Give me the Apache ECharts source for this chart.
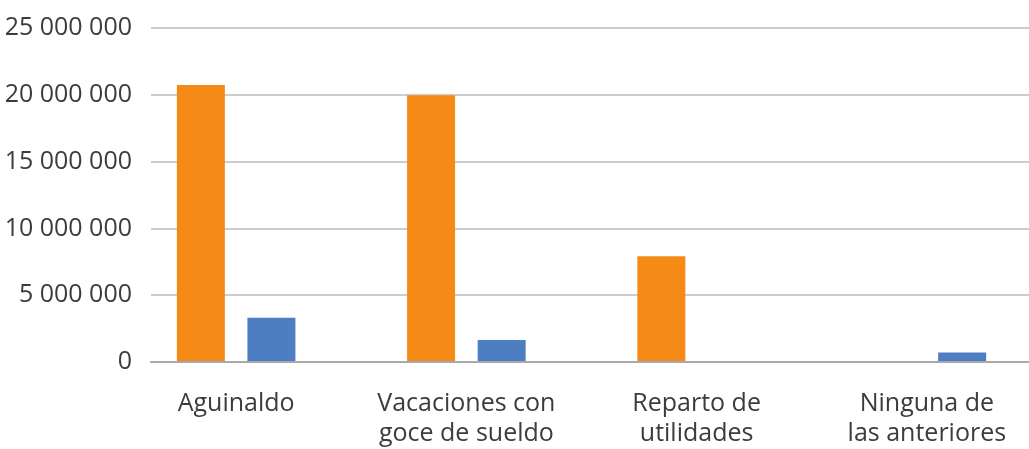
<!DOCTYPE html>
<html>
<head>
<meta charset="utf-8">
<script src="https://cdn.jsdelivr.net/npm/echarts@6/dist/echarts.min.js"></script>
<style>
  html, body { margin: 0; padding: 0; background: #fff; overflow: hidden; }
  #chart { width: 1042px; height: 449px; }
</style>
</head>
<body>
<div id="chart"></div>
<script>
var categories = ['Aguinaldo', 'Vacaciones con\ngoce de sueldo', 'Reparto de\nutilidades', 'Ninguna de\nlas anteriores'];
var orangeValues = [20730000, 19950000, 7870000, 0];
var blueValues = [3250000, 1570000, 0, 630000];
var yTicks = { min: 0, max: 25000000, interval: 5000000 };

function fmt(v) {
    return String(v).replace(/\B(?=(\d{3})+(?!\d))/g, ' ');
}

// the chart div is a bit wider than the window: the category bands run past the right edge
var myChart = echarts.init(document.getElementById('chart'));
var font = '"Open Sans", "Noto Sans", sans-serif';
var option = {
    animation: false,
    grid: [
        { left: 151, right: 13, top: 28, bottom: 87 },
        { left: 121, right: 0, top: 28, bottom: 87 }
    ],
    xAxis: [
        {
            gridIndex: 0,
            type: 'category',
            data: categories,
            axisLine: { lineStyle: { color: '#a9a9a9', width: 2 } },
            axisTick: { show: false },
            axisLabel: { show: false }
        },
        {
            gridIndex: 1,
            type: 'category',
            data: categories,
            axisLine: { show: false },
            axisTick: { show: false },
            axisLabel: {
                interval: 0,
                margin: 28,
                fontFamily: font,
                fontSize: 25,
                lineHeight: 30,
                color: '#3c3c3c'
            }
        }
    ],
    yAxis: [
        {
            gridIndex: 0,
            type: 'value',
            min: yTicks.min,
            max: yTicks.max,
            interval: yTicks.interval,
            axisLine: { show: false },
            axisTick: { show: false },
            splitLine: { lineStyle: { color: '#cdcdcd', width: 2 } },
            axisLabel: {
                margin: 19,
                fontFamily: font,
                fontSize: 25,
                color: '#3c3c3c',
                formatter: fmt
            }
        },
        {
            gridIndex: 1,
            type: 'value',
            min: yTicks.min,
            max: yTicks.max,
            show: false,
            splitLine: { show: false }
        }
    ],
    series: [
        {
            name: 'Serie 1',
            type: 'bar',
            xAxisIndex: 1,
            yAxisIndex: 1,
            data: orangeValues,
            barWidth: 48,
            barGap: '47%',
            itemStyle: { color: '#f58a17' }
        },
        {
            name: 'Serie 2',
            type: 'bar',
            xAxisIndex: 1,
            yAxisIndex: 1,
            data: blueValues,
            barWidth: 48,
            barGap: '47%',
            itemStyle: { color: '#4e7ec2' }
        }
    ]
};
myChart.setOption(option);
</script>
</body>
</html>
